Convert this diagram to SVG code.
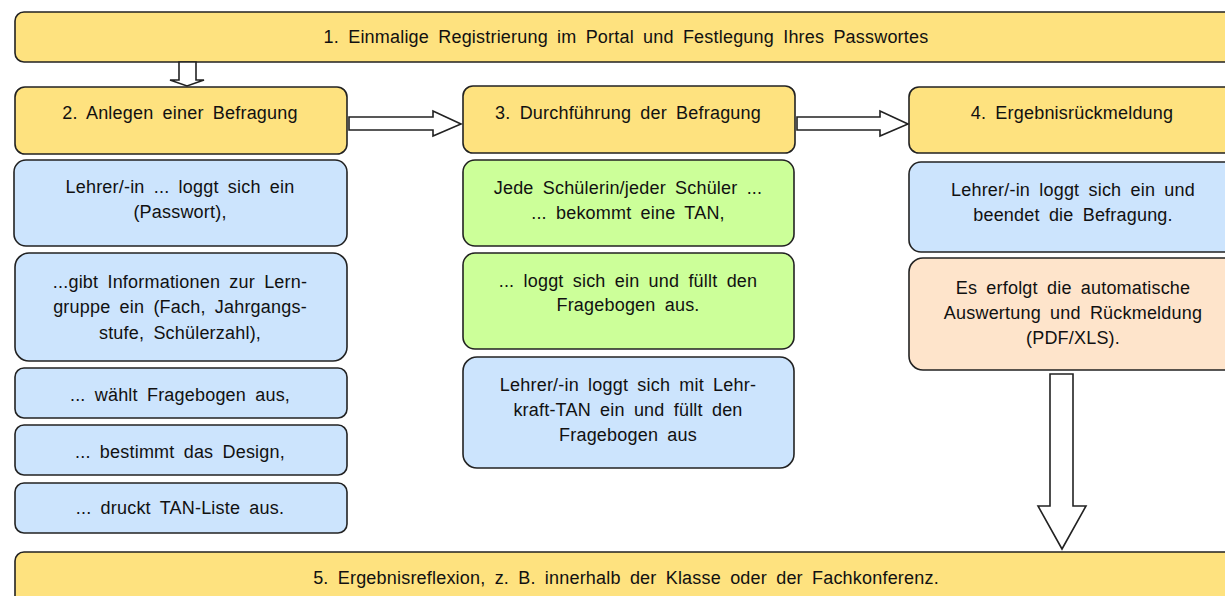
<svg xmlns="http://www.w3.org/2000/svg" width="1225" height="596" viewBox="0 0 1225 596">
<style>
.box{stroke:#222;stroke-width:1.6}
.y{fill:#FEE27F}
.b{fill:#CCE4FD}
.g{fill:#CCFF99}
.o{fill:#FEE4CB}
text{font-family:"Liberation Sans",Arial,sans-serif;font-size:18px;fill:#111;text-anchor:middle;word-spacing:4px;letter-spacing:0.2px}
.arr{fill:#fff;stroke:#222;stroke-width:1.6;stroke-linejoin:miter}
</style>
<rect width="1225" height="596" fill="#fff"/>
<g id="n1"><rect class="box y" x="15" y="12" width="1222" height="50" rx="9"/><text x="626" y="43">1. Einmalige Registrierung im Portal und Festlegung Ihres Passwortes</text></g>
<g id="n2"><rect class="box y" x="15" y="87" width="332" height="67" rx="10"/><text x="180" y="119">2. Anlegen einer Befragung</text></g>
<g id="n2a"><rect class="box b" x="14" y="160" width="333" height="86" rx="12"/><text x="180" y="193">Lehrer/-in ... loggt sich ein</text><text x="180" y="218">(Passwort),</text></g>
<g id="n2b"><rect class="box b" x="15" y="253" width="332" height="108" rx="14"/><text x="180" y="288">...gibt Informationen zur Lern-</text><text x="180" y="313">gruppe ein (Fach, Jahrgangs-</text><text x="180" y="339">stufe, Schülerzahl),</text></g>
<g id="n2c"><rect class="box b" x="15" y="368" width="332" height="50" rx="9"/><text x="180" y="401">... wählt Fragebogen aus,</text></g>
<g id="n2d"><rect class="box b" x="15" y="425" width="332" height="50" rx="9"/><text x="180" y="458">... bestimmt das Design,</text></g>
<g id="n2e"><rect class="box b" x="15" y="483" width="332" height="50" rx="9"/><text x="180" y="514">... druckt TAN-Liste aus.</text></g>
<g id="n3"><rect class="box y" x="463" y="86" width="332" height="67" rx="10"/><text x="628" y="119">3. Durchführung der Befragung</text></g>
<g id="n3a"><rect class="box g" x="463" y="160" width="331" height="86" rx="12"/><text x="628" y="194">Jede Schülerin/jeder Schüler ...</text><text x="628" y="219">... bekommt eine TAN,</text></g>
<g id="n3b"><rect class="box g" x="463" y="253" width="331" height="96" rx="12"/><text x="628" y="287">... loggt sich ein und füllt den</text><text x="628" y="311">Fragebogen aus.</text></g>
<g id="n3c"><rect class="box b" x="463" y="357" width="331" height="111" rx="14"/><text x="628" y="391">Lehrer/-in loggt sich mit Lehr-</text><text x="628" y="416">kraft-TAN ein und füllt den</text><text x="628" y="441">Fragebogen aus</text></g>
<g id="n4"><rect class="box y" x="909" y="87" width="330" height="66" rx="10"/><text x="1072" y="119">4. Ergebnisrückmeldung</text></g>
<g id="n4a"><rect class="box b" x="909" y="162" width="330" height="90" rx="12"/><text x="1073" y="196">Lehrer/-in loggt sich ein und</text><text x="1073" y="221">beendet die Befragung.</text></g>
<g id="n4b"><rect class="box o" x="909" y="258" width="330" height="112" rx="14"/><text x="1073" y="294">Es erfolgt die automatische</text><text x="1073" y="319">Auswertung und Rückmeldung</text><text x="1073" y="344">(PDF/XLS).</text></g>
<g id="n5"><rect class="box y" x="15" y="552" width="1222" height="60" rx="9"/><text x="626" y="584">5. Ergebnisreflexion, z. B. innerhalb der Klasse oder der Fachkonferenz.</text></g>
<g id="connectors">
<polygon class="arr" points="179,62 196,62 196,80 204,80 187,86 170,80 179,80"/>
<polygon class="arr" points="349,117 433,117 433,111 461,124 433,136 433,130 349,130"/>
<polygon class="arr" points="797,117 880,117 880,111 908,124 880,136 880,130 797,130"/>
<polygon class="arr" points="1050,374 1073,374 1073,506 1086,506 1062,549 1038,506 1050,506"/>
</g>
</svg>
